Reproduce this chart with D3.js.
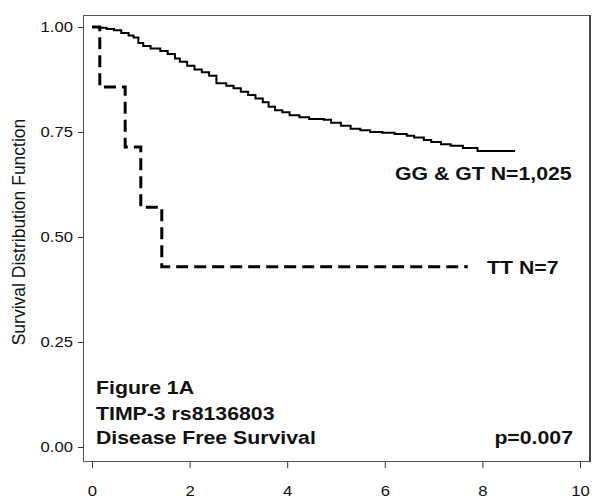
<!DOCTYPE html>
<meta charset="utf-8">
<style>
	body { margin: 0; background: #fff; }
	* { font-family: "Liberation Sans", Arial, sans-serif; }
	.frame { fill: none; stroke: #555; stroke-width: 1px; }
	.frame-edge { stroke: #444; stroke-width: 2px; }
	.axis .domain { display: none; }
	.axis .tick line { stroke: #333; }
	.axis .tick text { fill: #111; font-size: 14.5px; }
	.km { fill: none; stroke: #000; }
	.km.gg { stroke-width: 2px; }
	.km.tt { stroke-width: 3px; stroke-dasharray: 12, 6; }
	.note { font-weight: bold; font-size: 18.5px; fill: #111; }
	.ylabel { font-size: 17.5px; fill: #111; }
</style>
<body>
<div id="chart"></div>
<script src="https://d3js.org/d3.v7.min.js"></script>
<script>
	// GG & GT group (N=1,025), step values
	var timesGG = [0, 0.15, 0.3, 0.45, 0.6, 0.75, 0.85, 0.95, 1.05, 1.2, 1.4, 1.55, 1.7, 1.8, 1.95,
		2.1, 2.25, 2.4, 2.55, 2.75, 2.9, 3.05, 3.2, 3.35, 3.5, 3.62, 3.75, 3.9, 4.05, 4.25, 4.45,
		4.75, 4.9, 5.1, 5.3, 5.5, 5.7, 5.95, 6.2, 6.45, 6.6, 6.8, 6.95, 7.15, 7.35, 7.6, 7.9, 8.67];
	var survGG = [1.0, 0.998, 0.995, 0.992, 0.986, 0.98, 0.975, 0.962, 0.955, 0.949, 0.943, 0.936, 0.925, 0.917, 0.908,
		0.899, 0.892, 0.884, 0.866, 0.86, 0.854, 0.846, 0.838, 0.83, 0.821, 0.81, 0.802, 0.797, 0.79, 0.785, 0.781,
		0.779, 0.772, 0.765, 0.758, 0.754, 0.75, 0.748, 0.745, 0.741, 0.737, 0.731, 0.726, 0.721, 0.717, 0.712, 0.705, 0.705];

	// TT group (N=7)
	var timesTT = [0, 0.16, 0.68, 1.0, 1.43, 7.7];
	var survTT = [1.0, 0.857, 0.714, 0.571, 0.429, 0.429];

	var xTicks = [0, 2, 4, 6, 8, 10];
	var yTicks = [0, 0.25, 0.5, 0.75, 1.0];

	var W = 600, H = 503;
	var box = {left: 83, top: 15, right: 589, bottom: 461};
	var stretch = 1.15; // the original glyphs are a bit wider than tall

	var x = d3.scaleLinear().domain([0, 10]).range([92, 580]);
	var y = d3.scaleLinear().domain([0, 1]).range([447, 27]);

	var svg = d3.select("#chart").append("svg")
		.attr("width", W)
		.attr("height", H);

	svg.append("rect")
		.attr("class", "frame")
		.attr("x", box.left + 0.5)
		.attr("y", box.top + 0.5)
		.attr("width", box.right - box.left)
		.attr("height", box.bottom - box.top);
	svg.append("line")
		.attr("class", "frame-edge")
		.attr("x1", box.right + 1).attr("x2", box.right + 1)
		.attr("y1", box.top).attr("y2", box.bottom + 1);

	// y axis (ticks outside the frame)
	var gy = svg.append("g")
		.attr("class", "axis")
		.attr("transform", "translate(" + box.left + ",0)")
		.call(d3.axisLeft(y).tickValues(yTicks).tickSize(5).tickPadding(5).tickFormat(d3.format(".2f")));
	gy.selectAll(".tick text")
		.attr("x", -10 / stretch)
		.attr("transform", "scale(" + stretch + ",1)");

	// x axis
	var gx = svg.append("g")
		.attr("class", "axis")
		.attr("transform", "translate(0," + (box.bottom + 1) + ")")
		.call(d3.axisBottom(x).tickValues(xTicks).tickSize(6).tickPadding(18).tickFormat(d3.format("d")));
	gx.selectAll(".tick text")
		.attr("transform", "scale(" + stretch + ",1)");

	var line = d3.line()
		.x(function (d) { return x(d[0]); })
		.y(function (d) { return y(d[1]); })
		.curve(d3.curveStepAfter);

	svg.append("path")
		.attr("class", "km gg")
		.attr("d", line(d3.zip(timesGG, survGG)));

	svg.append("path")
		.attr("class", "km tt")
		.attr("d", line(d3.zip(timesTT, survTT)));

	svg.append("text")
		.attr("class", "ylabel")
		.attr("text-anchor", "middle")
		.attr("transform", "translate(25,232) rotate(-90)")
		.text("Survival Distribution Function");

	var notes = [
		{t: "GG & GT N=1,025", x: 395, y: 180, a: "start"},
		{t: "TT N=7", x: 487, y: 274, a: "start"},
		{t: "Figure 1A", x: 96, y: 394, a: "start"},
		{t: "TIMP-3 rs8136803", x: 96, y: 420, a: "start"},
		{t: "Disease Free Survival", x: 96, y: 444, a: "start"},
		{t: "p=0.007", x: 573, y: 444, a: "end"}
	];
	svg.selectAll("text.note").data(notes).enter().append("text")
		.attr("class", "note")
		.attr("text-anchor", function (d) { return d.a; })
		.attr("transform", function (d) { return "translate(" + d.x + "," + d.y + ") scale(" + stretch + ",1)"; })
		.text(function (d) { return d.t; });
</script>
</body>
